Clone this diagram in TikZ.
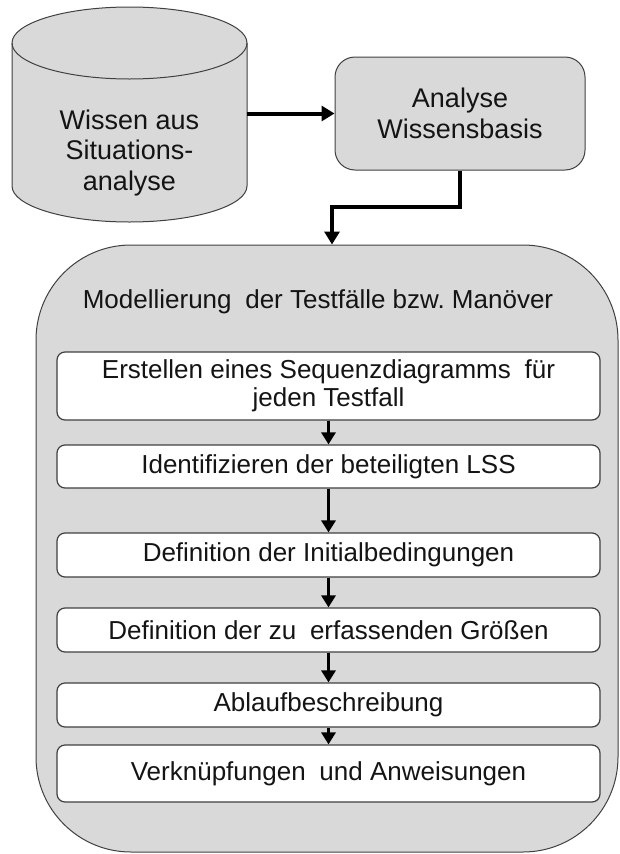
\documentclass[tikz,border=0pt]{standalone}
\usepackage{fontspec}
\setmainfont{Liberation Sans}
\usetikzlibrary{arrows.meta,calc}
\definecolor{panelgray}{HTML}{D9D9D9}
\definecolor{edgegray}{HTML}{404040}
\definecolor{inkblack}{HTML}{141414}
\begin{document}
\begin{tikzpicture}[x=1pt,y=-1pt,
  bigtext/.style={font=\fontsize{27}{30.5}\selectfont, text=inkblack, align=center},
  steptext/.style={font=\fontsize{26}{28.5}\selectfont, text=inkblack, align=center},
  panel/.style={draw=edgegray, line width=1pt, fill=panelgray, inner sep=0pt},
  stepbox/.style={draw=edgegray, line width=1.2pt, fill=white, rounded corners=8pt,
    minimum width=543pt, inner sep=0pt, steptext},
  flow/.style={line width=3pt, -{Triangle[length=12pt,width=14pt]}},
  mainflow/.style={line width=4pt, -{Triangle[length=13pt,width=15pt]}},
]
\useasboundingbox (0,0) rectangle (620,854);

% knowledge store (cylinder)
\path[fill=panelgray, draw=edgegray, line width=1pt]
  (12,43) -- (12,186)
  arc[start angle=180, end angle=360, x radius=117.5pt, y radius=36pt]
  -- (247,43)
  arc[start angle=0, end angle=180, x radius=117.5pt, y radius=36pt] -- cycle;
\draw[edgegray, line width=1pt] (12,43)
  arc[start angle=180, end angle=360, x radius=117.5pt, y radius=36pt];
\node[minimum width=235pt, minimum height=215pt, inner sep=0pt] (kb) at (129.5,114.5) {};
\node[bigtext] (kbtxt) at (129.5,153) {Wissen aus\\Situations-\\analyse};

% analysis step
\node[panel, rounded corners=20pt, minimum width=250pt, minimum height=113pt, bigtext]
  (ana) at (460,113.5) {Analyse\\Wissensbasis};

% modelling container
\node[panel, rounded corners=95pt, minimum width=582pt, minimum height=607pt]
  (model) at (327,548.5) {};
\node[steptext] (title) at (318,302)
  {Modellierung\hspace{0.25em} der Testfälle bzw.\ Manöver};

% modelling steps
\node[stepbox, minimum height=68pt] (s1) at (328.5,386)
  {Erstellen eines Sequenzdiagramms\hspace{0.25em} für\\jeden Testfall};
\node[stepbox, minimum height=43pt] (s2) at (328.5,466.5)
  {Identifizieren der beteiligten LSS};
\node[stepbox, minimum height=44pt] (s3) at (328.5,555)
  {Definition der Initialbedingungen};
\node[stepbox, minimum height=44pt] (s4) at (328.5,630)
  {Definition der zu\hspace{0.25em} erfassenden Größen};
\node[stepbox, minimum height=44pt] (s5) at (328.5,705)
  {Ablaufbeschreibung};
\node[stepbox, minimum height=57pt] (s6) at (328.5,773.5)
  {Verknüpfungen\hspace{0.25em} und Anweisungen};

% connectors
\draw[mainflow] (ana.west -| kb.east) -- (ana.west);
\coordinate (bend) at (332,207);
\draw[mainflow] (ana.south) |- (bend) -- (bend |- model.north);
\draw[flow] (s1) -- (s2);
\draw[flow] (s2) -- (s3);
\draw[flow] (s3) -- (s4);
\draw[flow] (s4) -- (s5);
\draw[flow] (s5) -- (s6);
\end{tikzpicture}
\end{document}
